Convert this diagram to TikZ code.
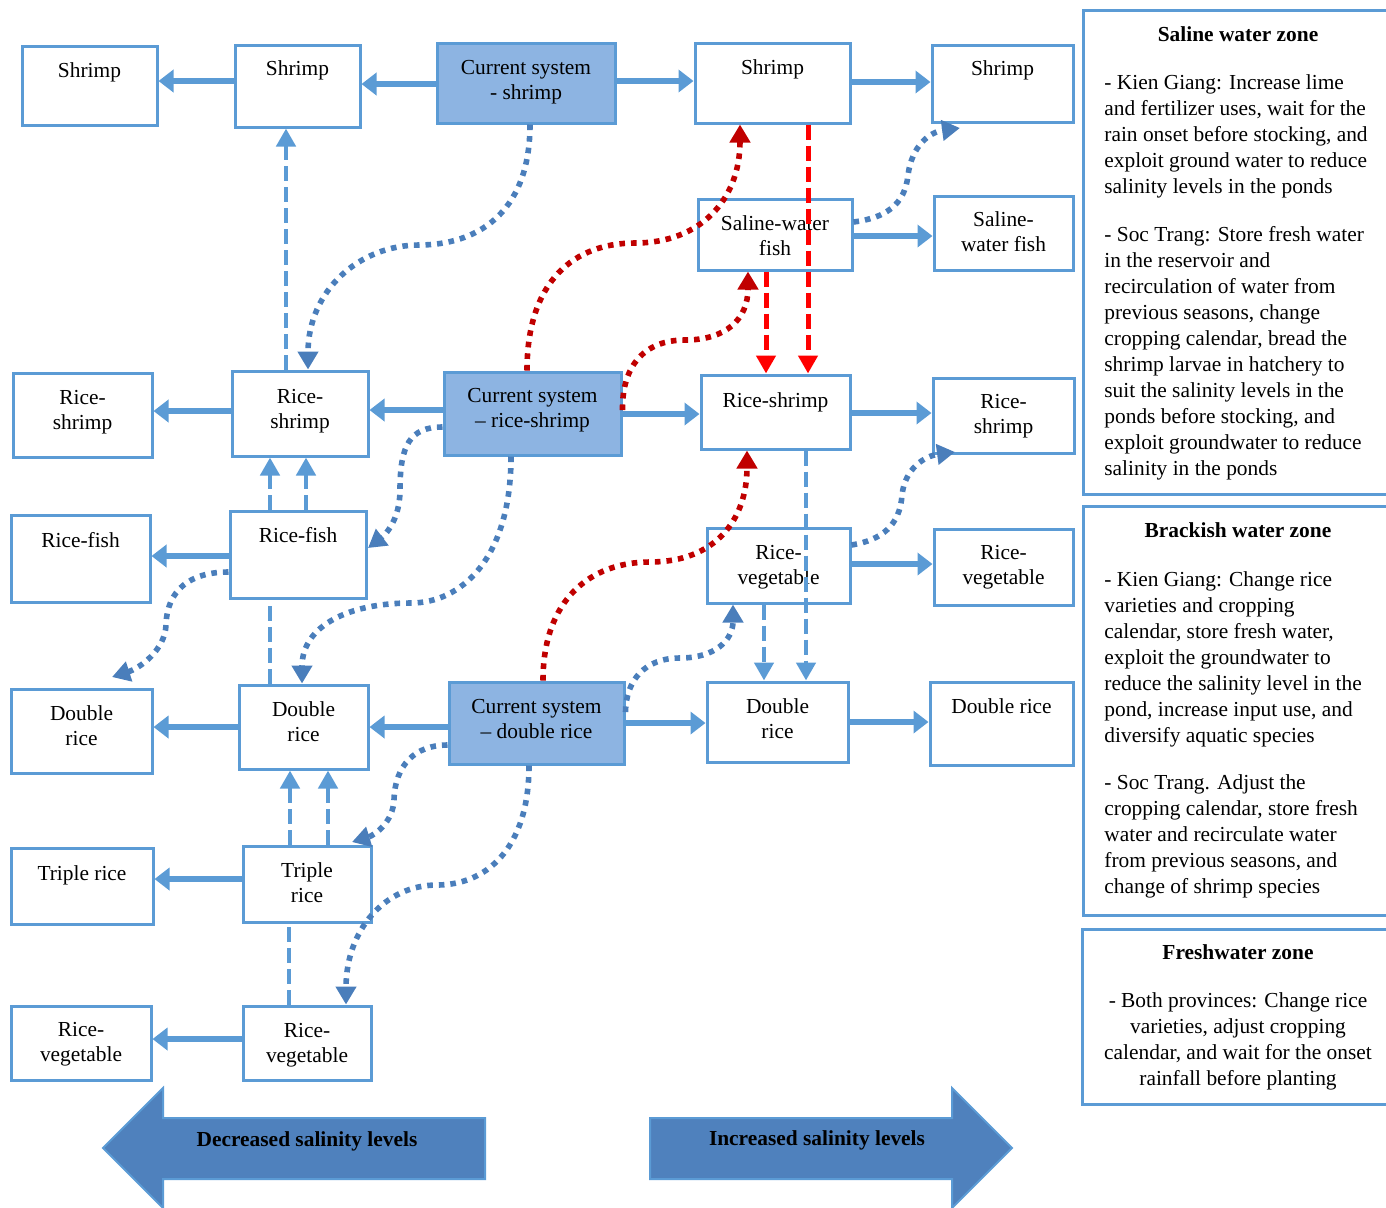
\documentclass[tikz,border=0pt]{standalone}
\usepackage{fontspec}
\setmainfont{Liberation Serif}
\usetikzlibrary{arrows.meta,fit}
\definecolor{boxblue}{HTML}{5B9BD5}
\definecolor{curfill}{HTML}{8DB4E2}
\definecolor{dotblue}{HTML}{4A7EBB}
\definecolor{dotred}{HTML}{C00000}
\definecolor{dashred}{HTML}{FF0000}
\definecolor{bigfill}{HTML}{4F81BD}
\newcommand{\boxfont}{\fontsize{10.7}{12.5}\selectfont}
\newcommand{\panelfont}{\fontsize{10.7}{13}\selectfont}
% a farming-system box: name, style, corners, text offset (px down), text
\newcommand{\stagebox}[5]{%
  \node (#1) [#2,fit={#3}] {};
  \node (#1t) [boxtext,shift={(0,#4)}] at (#1.center) {#5};}
\begin{document}
\begin{tikzpicture}[x=0.5pt,y=-0.5pt,
  box/.style={draw=boxblue,line width=1.5pt,fill=white,inner sep=0pt},
  cur/.style={box,fill=curfill},
  boxtext/.style={align=center,inner sep=0pt,font=\boxfont},
  zone/.style={draw=boxblue,line width=1.5pt,inner sep=0pt},
  flow/.style={draw=boxblue,line width=2.8pt,-{Triangle[length=7.5pt,width=11pt]}},
  dashflow/.style={draw=boxblue,line width=2.4pt,dash pattern=on 7.5pt off 3pt,-{Triangle[length=9pt,width=9.5pt]}},
  dashlink/.style={draw=boxblue,line width=2.4pt,dash pattern=on 7.5pt off 3pt},
  reddash/.style={draw=dashred,line width=2.5pt,dash pattern=on 7.5pt off 3pt,-{Triangle[length=9pt,width=9.5pt]}},
  dotb/.style={draw=dotblue,line width=2.8pt,dash pattern=on 2.8pt off 3pt,-{Triangle[length=9pt,width=10pt]}},
  dotr/.style={dotb,draw=dotred},
  bigarrow/.style={fill=bigfill,draw=boxblue,line width=1pt},
  paneltext/.style={anchor=north west,align=left,inner sep=0pt,font=\panelfont},
  title/.style={anchor=base,inner sep=0pt,font=\panelfont\bfseries},
]
\useasboundingbox (0,0) rectangle (1386,1207);

% ---- shrimp row
\stagebox{shL2}{box}{(22,46) (157,125)}{1}{Shrimp\\\strut}
\stagebox{shL1}{box}{(235,45) (360,127)}{-2}{Shrimp\\\strut}
\stagebox{csS}{cur}{(437,43) (615,123)}{-1}{Current system\\- shrimp}
\stagebox{shR1}{box}{(695,43) (850,123)}{0}{Shrimp\\\strut}
\stagebox{shR2}{box}{(932,45) (1073,122)}{1}{Shrimp\\\strut}
\stagebox{swfR1}{box}{(698,199) (852,270)}{1}{Saline-water\\fish}
\stagebox{swfR2}{box}{(934,196) (1073,270)}{-1}{Saline-\\water fish}

% ---- rice-shrimp row
\stagebox{rsL2}{box}{(13,373) (152,457)}{-3}{Rice-\\shrimp}
\stagebox{rsL1}{box}{(232,371) (368,456)}{-2}{Rice-\\shrimp}
\stagebox{csRS}{cur}{(444,372) (621,455)}{-3}{Current system\\– rice-shrimp}
\stagebox{rsR1}{box}{(701,375) (850,449)}{4}{Rice-shrimp\\\strut}
\stagebox{rsR2}{box}{(933,378) (1074,453)}{1}{Rice-\\shrimp}

% ---- rice-fish / rice-vegetable row
\stagebox{rfL2}{box}{(11,515) (150,602)}{-2}{Rice-fish\\\strut}
\stagebox{rfL1}{box}{(230,511) (366,598)}{-3}{Rice-fish\\\strut}
\stagebox{rvR1}{box}{(707,528) (850,603)}{2}{Rice-\\vegetable}
\stagebox{rvR2}{box}{(934,529) (1073,605)}{0}{Rice-\\vegetable}

% ---- double rice row
\stagebox{drL2}{box}{(11,689) (152,773)}{-5}{Double\\rice}
\stagebox{drL1}{box}{(239,685) (368,769)}{-5}{Double\\rice}
\stagebox{csDR}{cur}{(449,682) (624,764)}{-4}{Current system\\– double rice}
\stagebox{drR1}{box}{(707,682) (848,762)}{-3}{Double\\rice}
\stagebox{drR2}{box}{(930,682) (1073,765)}{-1}{Double rice\\\strut}

% ---- triple rice and rice-vegetable rows
\stagebox{trL2}{box}{(11,848) (153,924)}{3}{Triple rice\\\strut}
\stagebox{trL1}{box}{(243,846) (371,922)}{-1}{Triple\\rice}
\stagebox{rvL2}{box}{(11,1006) (151,1080)}{1}{Rice-\\vegetable}
\stagebox{rvL1}{box}{(243,1006) (371,1080)}{2}{Rice-\\vegetable}

% ---- solid transitions
\draw[flow] (shL1.west |- 0,81) -- (shL2.east |- 0,81);
\draw[flow] (csS.west |- 0,84) -- (shL1.east |- 0,84);
\draw[flow] (csS.east |- 0,81) -- (shR1.west |- 0,81);
\draw[flow] (shR1.east |- 0,82) -- (shR2.west |- 0,82);
\draw[flow] (swfR1.east |- 0,236) -- (swfR2.west |- 0,236);
\draw[flow] (rsL1.west |- 0,411) -- (rsL2.east |- 0,411);
\draw[flow] (csRS.west |- 0,410) -- (rsL1.east |- 0,410);
\draw[flow] (csRS.east |- 0,414) -- (rsR1.west |- 0,414);
\draw[flow] (rsR1.east |- 0,413) -- (rsR2.west |- 0,413);
\draw[flow] (rfL1.west |- 0,556) -- (rfL2.east |- 0,556);
\draw[flow] (rvR1.east |- 0,564) -- (rvR2.west |- 0,564);
\draw[flow] (drL1.west |- 0,727) -- (drL2.east |- 0,727);
\draw[flow] (csDR.west |- 0,727) -- (drL1.east |- 0,727);
\draw[flow] (csDR.east |- 0,723) -- (drR1.west |- 0,723);
\draw[flow] (drR1.east |- 0,722) -- (drR2.west |- 0,722);
\draw[flow] (trL1.west |- 0,879) -- (trL2.east |- 0,879);
\draw[flow] (rvL1.west |- 0,1039) -- (rvL2.east |- 0,1039);

% ---- dashed transitions (left side)
\draw[dashflow] (286,0 |- rsL1.north) -- (286,0 |- shL1.south);
\draw[dashflow] (270,0 |- rfL1.north) -- (270,0 |- rsL1.south);
\draw[dashflow] (306,0 |- rfL1.north) -- (306,0 |- rsL1.south);
\draw[dashlink] (270,0 |- drL1.north) -- (270,0 |- rfL1.south);
\draw[dashflow] (290,0 |- trL1.north) -- (290,0 |- drL1.south);
\draw[dashflow] (328,0 |- trL1.north) -- (328,0 |- drL1.south);
\draw[dashlink] (289,0 |- rvL1.north) -- (289,0 |- trL1.south);

% ---- dashed transitions (right side)
\draw[dashflow] (806,0 |- rsR1.south) -- (806,0 |- drR1.north);
\draw[dashflow] (764,0 |- rvR1.south) -- (764,0 |- drR1.north);
\draw[reddash] (808,0 |- shR1.south) -- (808,0 |- rsR1.north);
\draw[reddash] (766,0 |- swfR1.south) -- (766,0 |- rsR1.north);

% ---- dotted blue curves
\draw[dotb] (csS.south -| 530,0) .. controls (530,215) and (475,245) .. (419,245)
  .. controls (360,245) and (308,290) .. (308,0 |- rsL1.north);
\draw[dotb] (csRS.west |- 0,427) .. controls (410,427) and (400,445) .. (400,490)
  .. controls (400,520) and (385,535) .. (368,548);
\draw[dotb] (csRS.south -| 511,0) .. controls (511,560) and (460,603) .. (411,603)
  .. controls (350,603) and (302,625) .. (302,0 |- drL1.north);
\draw[dotb] (rfL1.west |- 0,572) .. controls (190,572) and (167,590) .. (166,625)
  .. controls (165,650) and (140,668) .. (112,677);
\draw[dotb] (csDR.west |- 0,745) .. controls (415,745) and (395,765) .. (394,800)
  .. controls (393,822) and (375,835) .. (352,842);
\draw[dotb] (csDR.south -| 529,0) .. controls (529,850) and (485,885) .. (437,885)
  .. controls (385,885) and (346,930) .. (346,0 |- rvL1.north);
\draw[dotb] (csDR.east |- 0,712) .. controls (626,680) and (645,658) .. (680,658)
  .. controls (715,658) and (733,640) .. (733,0 |- rvR1.south);
\draw[dotb] (swfR1.east |- 0,222) .. controls (885,218) and (905,205) .. (908,175)
  .. controls (912,145) and (930,132) .. (960,128);
\draw[dotb] (rvR1.east |- 0,545) .. controls (882,540) and (900,525) .. (902,495)
  .. controls (905,468) and (925,456) .. (955,452);

% ---- dotted red curves
\draw[dotr] (csRS.north -| 527,0) .. controls (527,280) and (575,243) .. (635,243)
  .. controls (700,243) and (740,200) .. (740,0 |- shR1.south);
\draw[dotr] (csRS.east |- 0,410) .. controls (622,365) and (645,340) .. (685,340)
  .. controls (725,340) and (748,320) .. (748,0 |- swfR1.south);
\draw[dotr] (csDR.north -| 543,0) .. controls (543,600) and (590,562) .. (650,562)
  .. controls (715,562) and (747,520) .. (747,0 |- rsR1.south);

% ---- zone panels
\node (salZ) [zone,fit={(1083,10) (1393,494)}] {};
\node (salT) [title] at (1238,41) {Saline water zone};
\node (salA) [paneltext] at (1104,74) {- Kien Giang: Increase lime\\and fertilizer uses, wait for the\\rain onset before stocking, and\\exploit ground water to reduce\\salinity levels in the ponds};
\node (salB) [paneltext] at (1104,226) {- Soc Trang: Store fresh water\\in the reservoir and\\recirculation of water from\\previous seasons, change\\cropping calendar, bread the\\shrimp larvae in hatchery to\\suit the salinity levels in the\\ponds before stocking, and\\exploit groundwater to reduce\\salinity in the ponds};

\node (brkZ) [zone,fit={(1083,506) (1393,915)}] {};
\node (brkT) [title] at (1238,537) {Brackish water zone};
\node (brkA) [paneltext] at (1104,571) {- Kien Giang: Change rice\\varieties and cropping\\calendar, store fresh water,\\exploit the groundwater to\\reduce the salinity level in the\\pond, increase input use, and\\diversify aquatic species};
\node (brkB) [paneltext] at (1104,774) {- Soc Trang. Adjust the\\cropping calendar, store fresh\\water and recirculate water\\from previous seasons, and\\change of shrimp species};

\node (frZ) [zone,fit={(1082,929) (1393,1104)}] {};
\node (frT) [title] at (1238,959) {Freshwater zone};
\node (frA) [anchor=north,align=center,inner sep=0pt,font=\panelfont] at (1238,992) {- Both provinces: Change rice\\varieties, adjust cropping\\calendar, and wait for the onset\\rainfall before planting};

% ---- salinity direction arrows
\path[bigarrow] (485,1118) -- (163,1118) -- (163,1088) -- (103,1148) -- (163,1208) -- (163,1179) -- (485,1179) -- cycle;
\path[bigarrow] (650,1118) -- (952,1118) -- (952,1088) -- (1012,1148) -- (952,1208) -- (952,1179) -- (650,1179) -- cycle;
\node (dec) [title] at (307,1146) {Decreased salinity levels};
\node (inc) [title] at (817,1145) {Increased salinity levels};
\end{tikzpicture}
\end{document}
